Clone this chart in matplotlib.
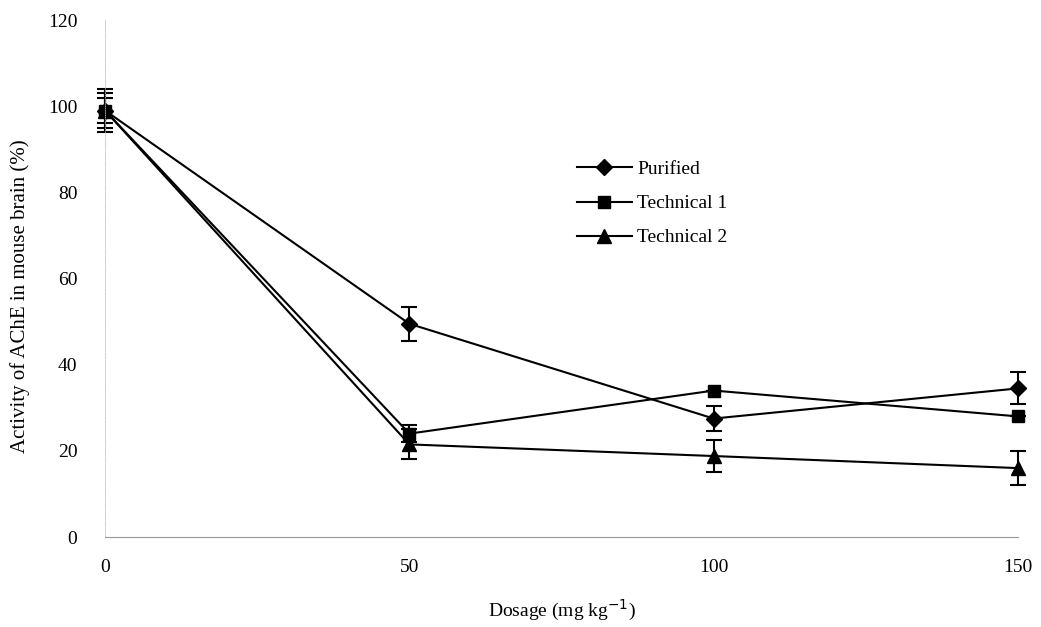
import matplotlib
matplotlib.use('Agg')
import matplotlib.pyplot as plt
from matplotlib.lines import Line2D

plt.rcParams['font.family'] = ['Liberation Serif', 'DejaVu Serif']

# data
dosage = [0, 50, 100, 150]
purified = [99, 49.5, 27.5, 34.5]
purified_err = [4, 4, 3, 3.7]
tech1 = [99, 24, 34, 28]
tech1_err = [3, 2, 0, 0]
tech2 = [99, 21.5, 18.8, 16]
tech2_err = [5, 3.5, 3.8, 4]

fig = plt.figure(figsize=(10.41, 6.27), dpi=100)
ax = fig.add_axes([0.1009, 0.1435, 0.877, 0.8245])

style = dict(color='black', lw=1.5, capsize=6, elinewidth=1.5, capthick=1.5, clip_on=False)
ax.errorbar(dosage, purified, yerr=purified_err, marker='D', ms=8, **style)
ax.errorbar(dosage, tech1, yerr=tech1_err, marker='s', ms=9, **style)
ax.errorbar(dosage, tech2, yerr=tech2_err, marker='^', ms=10, **style)

ax.set_xlim(0, 150)
ax.set_ylim(0, 120)
ax.set_xticks(dosage)
ax.set_yticks(range(0, 121, 20))
ax.tick_params(axis='both', length=0, labelsize=14)
ax.tick_params(axis='x', pad=16)
ax.tick_params(axis='y', pad=20)

for s in ['top', 'right']:
    ax.spines[s].set_visible(False)
ax.spines['bottom'].set_color('#999999')
ax.spines['bottom'].set_linewidth(0.8)
ax.spines['left'].set_color('#bbbbbb')
ax.spines['left'].set_linestyle(':')
ax.spines['left'].set_linewidth(0.6)

ax.set_xlabel('Dosage (mg kg$^{-1}$)', fontsize=14, labelpad=16)
ax.set_ylabel('Activity of AChE in mouse brain (%)', fontsize=15)
ax.yaxis.set_label_coords(-0.082, 0.465)

handles = [Line2D([], [], color='black', lw=1.5, marker=m, ms=s)
           for m, s in [('D', 8), ('s', 9), ('^', 10)]]
ax.legend(handles, ['Purified', 'Technical 1', 'Technical 2'],
          loc='upper left', bbox_to_anchor=(0.498, 0.762), frameon=False,
          fontsize=14, handlelength=2.8, handletextpad=0.3, labelspacing=0.85)

fig.savefig('out.png', dpi=100, facecolor='white')
